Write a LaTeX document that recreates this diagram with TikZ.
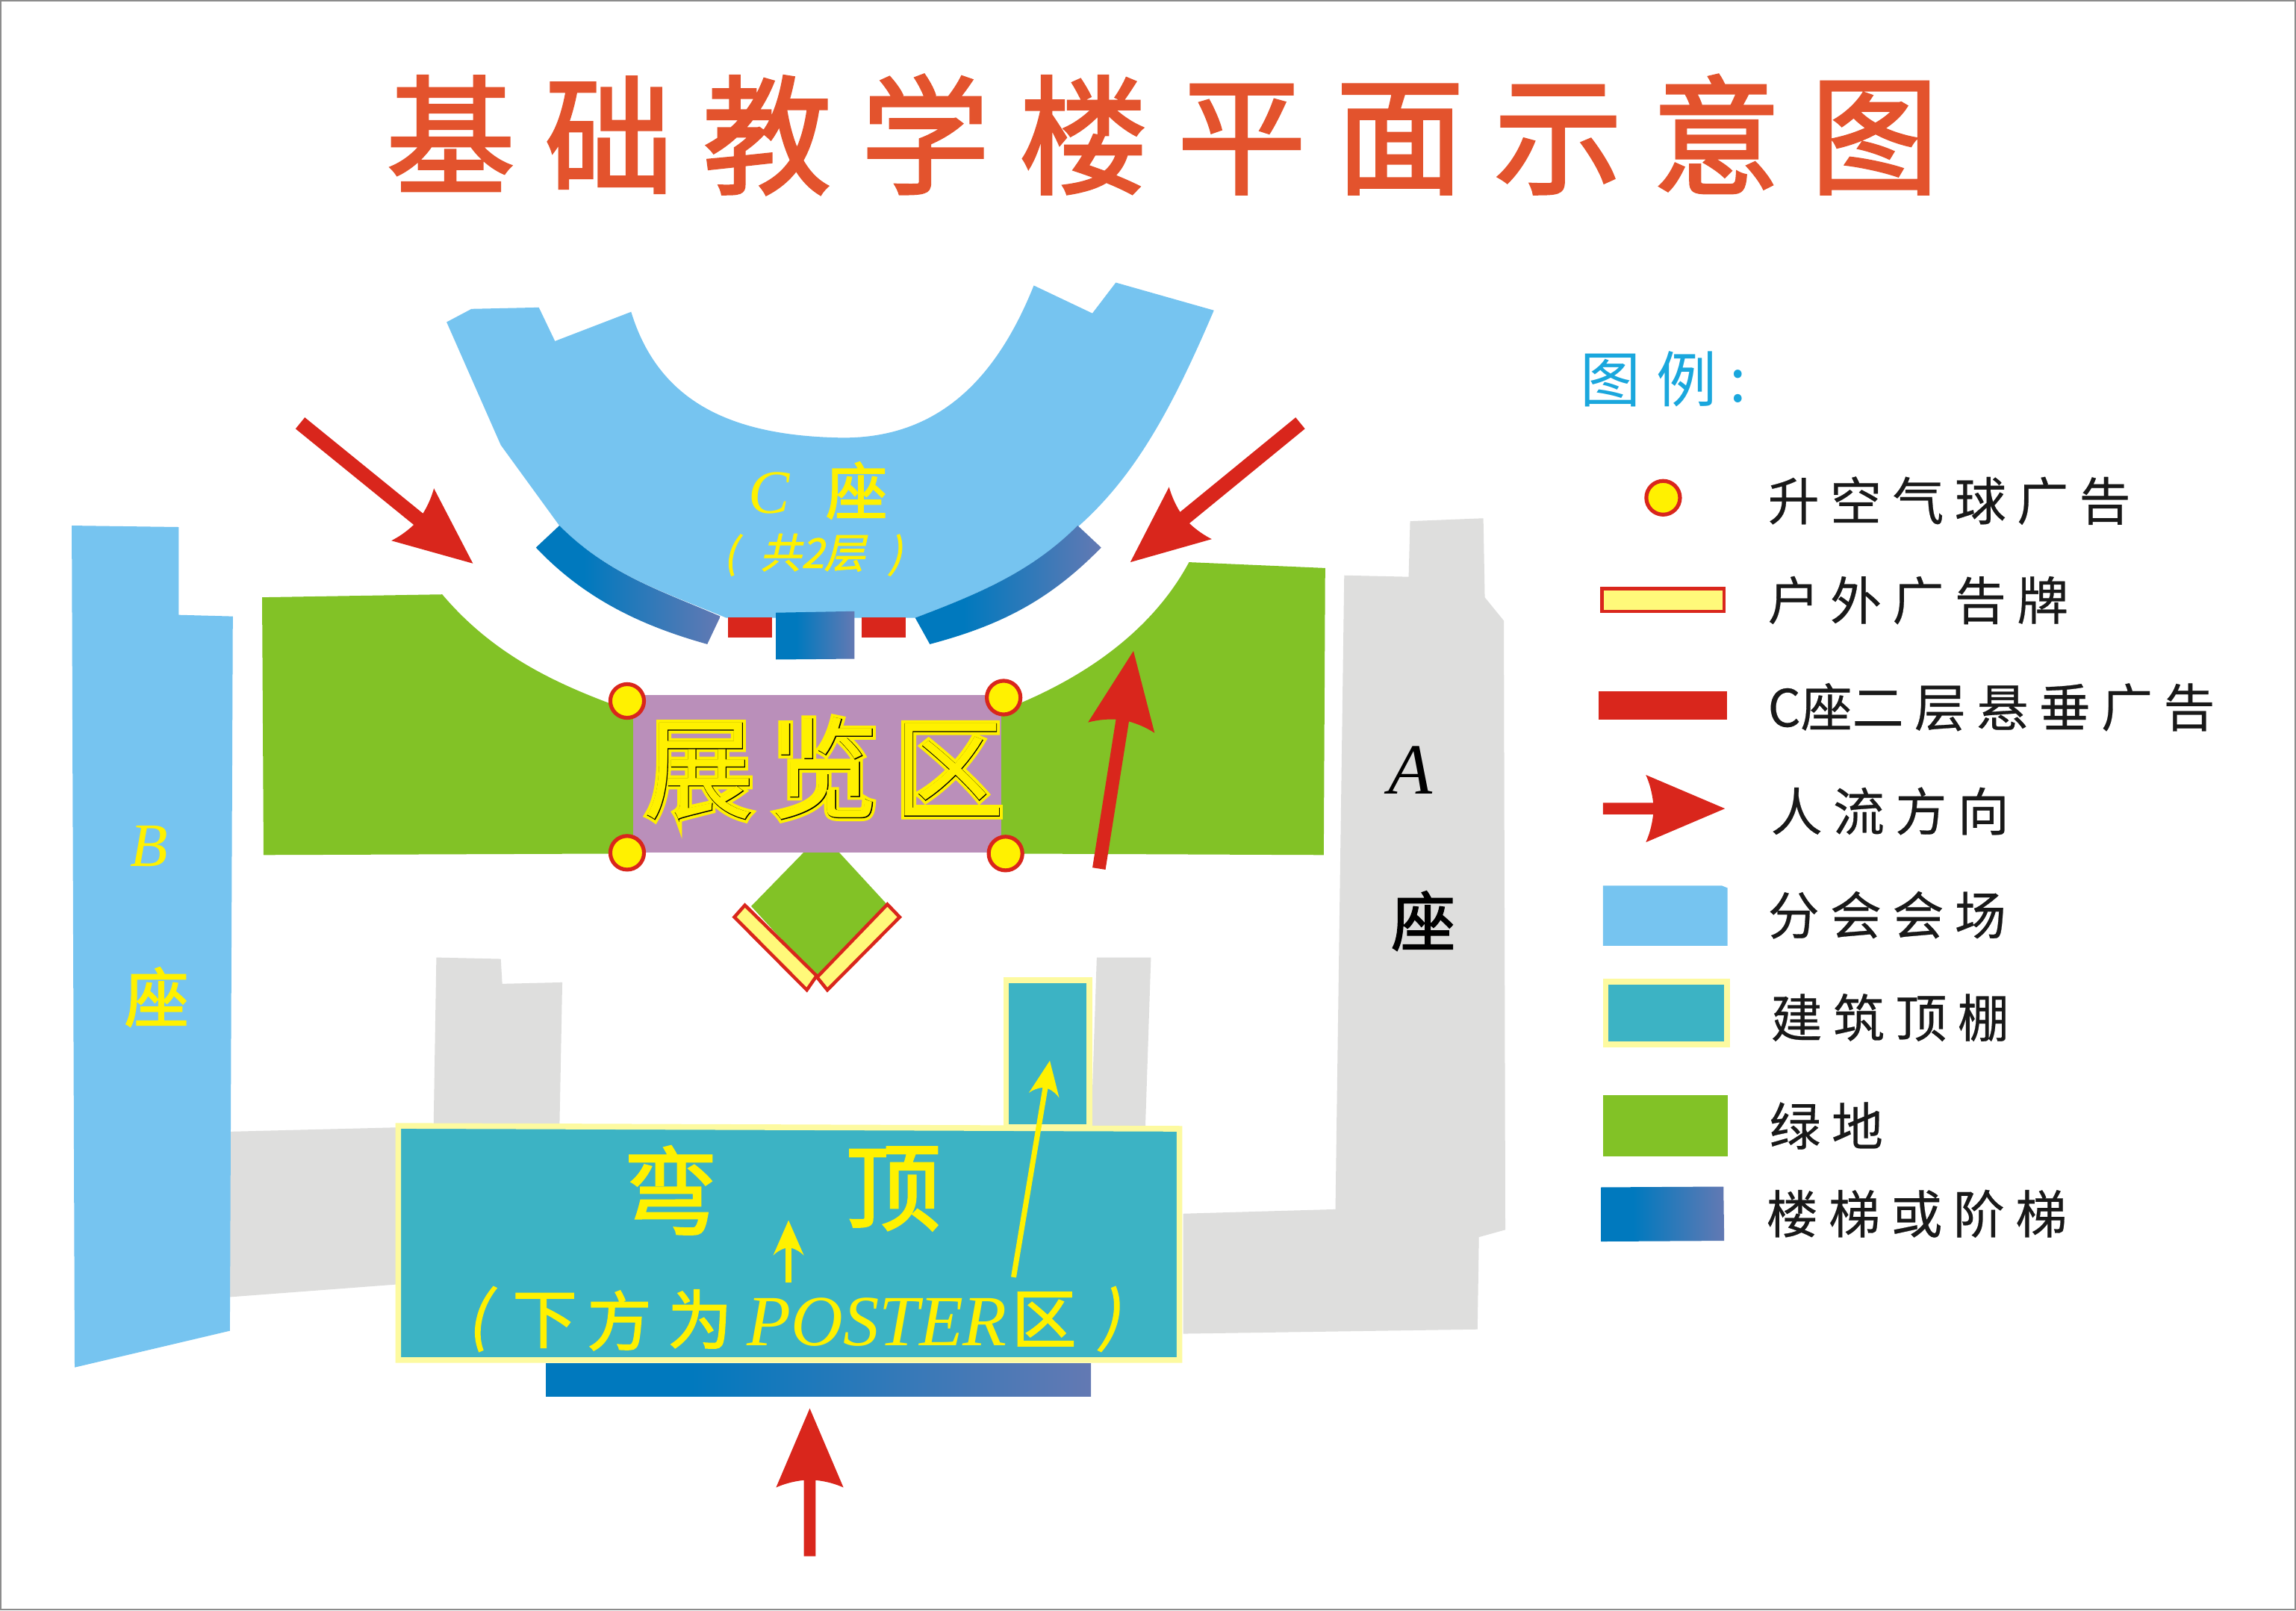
\documentclass[tikz,border=0pt]{standalone}
\usepackage{fontspec}
\setmainfont{Liberation Serif}
\newfontfamily\titlefont[LetterSpace=23,FakeBold=2]{Noto Sans CJK SC}
\newfontfamily\legendfont[LetterSpace=21,FakeBold=0.4]{Noto Sans CJK SC}
\newfontfamily\plainfont{Noto Sans CJK SC}
\newfontfamily\wlegendfont[FakeBold=0.4]{Noto Sans CJK SC}
\newfontfamily\heavyfont[FakeBold=2]{Noto Sans CJK SC}
\newfontfamily\slantfont[FakeSlant=.22,FakeBold=1.5]{Noto Sans CJK SC}
\newfontfamily\fatfont[FakeBold=6,LetterSpace=13]{Noto Sans CJK SC}
\newfontfamily\midfont[FakeBold=0.7,LetterSpace=13]{Noto Sans CJK SC}
\newfontfamily\thinfont[LetterSpace=13]{Noto Sans CJK SC}
\definecolor{cblue}{HTML}{76C4F0}
\definecolor{cgreen}{HTML}{82C226}
\definecolor{cteal}{HTML}{3CB3C4}
\definecolor{cgray}{HTML}{DEDEDD}
\definecolor{cyel}{HTML}{FFF100}
\definecolor{cred}{HTML}{D9261C}
\definecolor{cbill}{HTML}{FFF97A}
\definecolor{cedge}{HTML}{FDFAA0}
\definecolor{cpurple}{HTML}{BA8FBA}
\definecolor{ctitle}{HTML}{E3532D}
\definecolor{ccyan}{HTML}{1AA7DD}
\definecolor{sb}{HTML}{0079BE}
\definecolor{se}{HTML}{6379B3}
\pgfdeclarehorizontalshading{stairs}{100bp}{color(0bp)=(sb); color(38bp)=(sb); color(75bp)=(se); color(100bp)=(se)}
\tikzset{
  building/.style={fill=cgray},
  hall/.style={fill=cblue},
  lawn/.style={fill=cgreen},
  roof/.style={fill=cteal,draw=cedge,line width=2.2pt},
  billboard/.style={fill=cbill,draw=cred,line width=1.3pt},
  banner/.style={fill=cred},
  balloon/.style={fill=cyel,draw=cred,line width=1.5pt},
  stair/.style={shading=stairs},
  ylabel/.style={text=cyel,inner sep=0pt},
  legendtext/.style={anchor=west,inner sep=0pt,text=black!90},
}
% fill, x, y, angle, length, head length, head half width, shaft half width
\newcommand\flowarrow[8]{%
  \begin{scope}[shift={(#2,#3)},rotate=#4]
  \fill[#1] (0,#8) -- ({#5-#6+5},#8) .. controls ({#5-#6+4},{#7*.55}) and ({#5-#6+2},{#7*.8}) .. ({#5-#6},#7)
    -- (#5,0) -- ({#5-#6},-#7) .. controls ({#5-#6+2},{-#7*.8}) and ({#5-#6+4},{-#7*.55}) .. ({#5-#6+5},-#8)
    -- (0,-#8) -- cycle;
  \end{scope}}
\begin{document}
\begin{tikzpicture}[x=0.02cm,y=-0.02cm]
\useasboundingbox (0,0) rectangle (1568,1100);
\fill[white] (0,0) rectangle (1568,1100);
\draw[black!45,line width=0.6pt] (0.5,0.5) rectangle (1567.5,1099.5);

% title
\node[inner sep=0pt,text=ctitle,font=\titlefont\fontsize{50}{60}\selectfont] (title) at (794,92) {基础教学楼平面示意图};

% grey buildings
\fill[building] (918,393) -- (962,394) -- (963,356) -- (1013,354) -- (1014,408) -- (1027,424) -- (1028,840) -- (1010,845) -- (1009,908) -- (808,911) -- (808,829) -- (912,826) -- cycle;
\fill[building] (155,773) -- (275,770) -- (275,877) -- (156,886) -- cycle;
\fill[building] (298,654) -- (342,655) -- (343,672) -- (384,671) -- (382,775) -- (296,775) -- cycle;
\fill[building] (749,654) -- (786,654) -- (782,775) -- (745,775) -- cycle;

% B block
\fill[hall] (49,359) -- (122,360) -- (122,420) -- (159,421) -- (157,909) -- (51,934) -- cycle;

% C block
\fill[hall] (305,220) -- (322,211) -- (368,210) -- (379,233) -- (431,213)
  .. controls (450,275) and (500,298) .. (576,299)
  .. controls (640,299) and (680,260) .. (706,195)
  -- (746,214) -- (762,193) -- (829,212)
  .. controls (800,280) and (775,325) .. (737,359)
  .. controls (705,390) and (670,405) .. (625,422)
  -- (496,422)
  .. controls (450,403) and (415,392) .. (382,359)
  -- (342,304) -- cycle;

% lawns
\fill[lawn] (179,408) -- (302,406) .. controls (335,445) and (375,465) .. (418,481) -- (436,481) -- (436,583) -- (180,584) -- cycle;
\fill[lawn] (812,384) -- (905,388) -- (904,584) -- (680,583) -- (680,481) -- (695,481) .. controls (750,458) and (790,425) .. (812,384) -- cycle;
\fill[lawn] (551,580) -- (571,580) -- (606,618) -- (558,668) -- (513,619) -- cycle;

% exhibition area
\fill[cpurple] (432.5,474.5) rectangle (684,582.5);

% stairs
\shade[stair] (382,359) -- (366,374) .. controls (400,410) and (440,428) .. (483,440) -- (492,421) .. controls (450,403) and (415,392) .. (382,359) -- cycle;
\shade[stair] (736,359) -- (752,374) .. controls (715,412) and (680,428) .. (635,440) -- (625,422) .. controls (670,405) and (705,390) .. (736,359) -- cycle;
\shade[stair] (530,418.5) -- (583.5,417.5) -- (583.5,450) -- (530,450.5) -- cycle;
\shade[stair] (372.8,931.6) rectangle (745,954);

% hanging banners
\fill[banner] (497,421.5) rectangle (527,435.5);
\fill[banner] (588.6,421.5) rectangle (618.6,435.5);

% billboards
\draw[billboard] (508.7,618.3) -- (501.5,626.4) -- (551,676.2) -- (557.7,666.5) -- cycle;
\draw[billboard] (606,617.7) -- (614.4,626.4) -- (565,676.2) -- (558,667.5) -- cycle;

% balloons
\draw[balloon] (428.3,478.8) circle [radius=11.5];
\draw[balloon] (685.4,476.5) circle [radius=11.5];
\draw[balloon] (428.3,582.5) circle [radius=11.5];
\draw[balloon] (686.7,583) circle [radius=11.5];

% roofs
\draw[roof] (687,669.5) rectangle (744,770);
\draw[roof] (272,769) -- (805.5,771) -- (805.5,929) -- (272,929) -- cycle;

% labels on the plan
\node[ylabel,font=\fontsize{24}{26}\itshape] (cC) at (525,337) {C};
\node[ylabel,font=\heavyfont\fontsize{24}{28}\selectfont] (cZuo) at (585,335) {座};
\node[ylabel,font=\slantfont\fontsize{16}{18}\selectfont] (cFloors) at (555,379) {(\;\;共2层\;\;)};
\node[ylabel,font=\fontsize{24}{30}\itshape] (bB) at (102,578) {B};
\node[ylabel,font=\heavyfont\fontsize{25}{30}\selectfont] (bZuo) at (107,681) {座};
\node[inner sep=0pt,text=black,font=\fontsize{28}{30}\itshape] (aA) at (963,526) {A};
\node[inner sep=0pt,text=black,font=\heavyfont\fontsize{25}{30}\selectfont] (aZuo) at (972,629) {座};

\node[ylabel,font=\fatfont\fontsize{43}{50}\selectfont] (expoA) at (563,525) {展览区};
\node[inner sep=0pt,text=black,font=\midfont\fontsize{43}{50}\selectfont] (expoB) at (563,525) {展览区};
\node[ylabel,font=\thinfont\fontsize{43}{50}\selectfont] (expoC) at (563,525) {展览区};

\node[ylabel,font=\heavyfont\fontsize{37}{42}\selectfont] (wan) at (458,813) {弯};
\node[ylabel,font=\heavyfont\fontsize{37}{42}\selectfont] (ding) at (610,812) {顶};
\node[ylabel,font=\slantfont\fontsize{25}{30}\selectfont] (pL) at (326,901) {(};
\node[ylabel,font=\heavyfont\fontsize{25}{30}\selectfont] (xia) at (372,902) {下};
\node[ylabel,font=\heavyfont\fontsize{25}{30}\selectfont] (fang) at (423,902) {方};
\node[ylabel,font=\heavyfont\fontsize{25}{30}\selectfont] (wei) at (478,901) {为};
\node[ylabel,font=\fontsize{28}{32}\itshape] (poster) at (599,903) {POSTER};
\node[ylabel,font=\heavyfont\fontsize{25}{30}\selectfont] (qu) at (713,901) {区};
\node[ylabel,font=\slantfont\fontsize{25}{30}\selectfont] (pR) at (757,901) {)};

% arrows
\flowarrow{cred}{205}{289}{-39.1}{152}{53}{23}{5}
\flowarrow{cred}{888}{289}{-140.7}{150}{53}{23}{5}
\flowarrow{cred}{750.5}{593.3}{81}{150.5}{53}{23}{4.5}
\flowarrow{cred}{553}{1063}{90}{101}{54}{23}{4}
\flowarrow{cyel}{538.5}{876}{90}{42.5}{24}{10.5}{2}
\flowarrow{cyel}{692.2}{872.4}{80.5}{150}{24}{10.5}{1.8}

% legend
\node[inner sep=0pt,anchor=west,text=ccyan,font=\plainfont\fontsize{23.5}{28}\selectfont] (legendHead) at (1079,259) {图\hspace{6pt}例\hspace{5pt}:};

\draw[balloon] (1135.8,340) circle [radius=11.5];
\draw[billboard] (1094,402) rectangle (1177.5,417.5);
\fill[banner] (1091.6,472.4) rectangle (1179.4,491.5);
\flowarrow{cred}{1094.7}{552.3}{0}{83.3}{54}{23}{4}
\fill[hall] (1094.7,605) -- (1176,605) -- (1179.7,606.5) -- (1179.7,646) -- (1094.7,646) -- cycle;
\draw[roof] (1096.5,670.5) rectangle (1179.5,713.5);
\fill[lawn] (1095,748) rectangle (1179.7,789.6);
\shade[stair] (1093.5,811) -- (1177,810.5) -- (1177.5,847.5) -- (1093.5,848) -- cycle;

\node[legendtext,font=\legendfont\fontsize{20}{24}\selectfont] (l1) at (1207,342) {升空气球广告};
\node[legendtext,font=\legendfont\fontsize{20}{24}\selectfont] (l2) at (1207,410) {户外广告牌};
\node[legendtext,font=\legendfont\fontsize{20}{24}\selectfont] (l3) at (1207,483) {{\wlegendfont C座}二层悬垂广告};
\node[legendtext,font=\legendfont\fontsize{20}{24}\selectfont] (l4) at (1209,554) {人流方向};
\node[legendtext,font=\legendfont\fontsize{20}{24}\selectfont] (l5) at (1207,625) {分会会场};
\node[legendtext,font=\legendfont\fontsize{20}{24}\selectfont] (l6) at (1209,695) {建筑顶棚};
\node[legendtext,font=\legendfont\fontsize{20}{24}\selectfont] (l7) at (1208,769) {绿地};
\node[legendtext,font=\legendfont\fontsize{20}{24}\selectfont] (l8) at (1206,829) {楼梯或阶梯};
\end{tikzpicture}
\end{document}
